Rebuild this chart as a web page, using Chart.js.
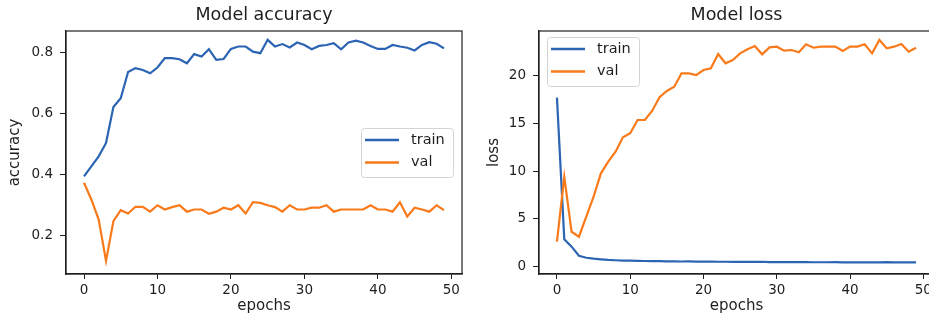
<!DOCTYPE html>
<html>
<head>
<meta charset="utf-8">
<title>Model accuracy / loss</title>
<script src="https://cdn.jsdelivr.net/npm/chart.js@4.4.1/dist/chart.umd.min.js"></script>
<style>
  html, body { margin: 0; padding: 0; background: #fff; overflow: hidden; }
  #wrap { position: relative; width: 929px; height: 324px; overflow: hidden; }
  canvas { position: absolute; top: 0; }
</style>
</head>
<body>
<div id="wrap">
  <canvas id="accChart" width="470" height="324" style="left:0;width:470px;height:324px"></canvas>
  <canvas id="lossChart" width="472" height="324" style="left:470px;width:472px;height:324px"></canvas>
</div>
<script>
'use strict';

// colours
var blue = '#2c64b4';
var orange = '#f97a1a';
var ink = '#1e1e1e';

// ---- data ----
var epochs = [0, 1, 2, 3, 4, 5, 6, 7, 8, 9,
              10, 11, 12, 13, 14, 15, 16, 17, 18, 19,
              20, 21, 22, 23, 24, 25, 26, 27, 28, 29,
              30, 31, 32, 33, 34, 35, 36, 37, 38, 39,
              40, 41, 42, 43, 44, 45, 46, 47, 48, 49];

var trainAcc = [0.393, 0.426, 0.459, 0.503, 0.621, 0.650, 0.736, 0.749, 0.743, 0.732,
                0.751, 0.782, 0.782, 0.778, 0.765, 0.795, 0.787, 0.811, 0.776, 0.779,
                0.812, 0.820, 0.820, 0.803, 0.798, 0.842, 0.820, 0.828, 0.817, 0.833,
                0.825, 0.811, 0.822, 0.825, 0.831, 0.811, 0.833, 0.839, 0.833, 0.822,
                0.812, 0.812, 0.825, 0.820, 0.816, 0.807, 0.825, 0.834, 0.829, 0.814];

var valAcc = [0.372, 0.317, 0.251, 0.115, 0.246, 0.282, 0.271, 0.293, 0.293, 0.277,
              0.298, 0.284, 0.292, 0.298, 0.277, 0.284, 0.284, 0.270, 0.277, 0.290,
              0.284, 0.298, 0.271, 0.308, 0.306, 0.298, 0.292, 0.277, 0.298, 0.284,
              0.284, 0.290, 0.290, 0.298, 0.277, 0.284, 0.284, 0.284, 0.284, 0.298,
              0.284, 0.284, 0.277, 0.308, 0.261, 0.290, 0.284, 0.277, 0.298, 0.282];

var trainLoss = [17.7, 2.87, 2.10, 1.15, 0.94, 0.85, 0.78, 0.72, 0.68, 0.65,
                 0.63, 0.62, 0.60, 0.59, 0.58, 0.57, 0.56, 0.55, 0.56, 0.54,
                 0.53, 0.53, 0.52, 0.52, 0.51, 0.51, 0.50, 0.50, 0.52, 0.49,
                 0.49, 0.48, 0.49, 0.48, 0.48, 0.47, 0.47, 0.47, 0.48, 0.46,
                 0.46, 0.46, 0.46, 0.47, 0.46, 0.48, 0.45, 0.45, 0.45, 0.45];

var valLoss = [2.62, 9.42, 3.66, 3.14, 5.24, 7.33, 9.78, 11.0, 12.04, 13.55,
               13.97, 15.36, 15.36, 16.34, 17.74, 18.40, 18.85, 20.25, 20.25, 20.07,
               20.60, 20.77, 22.27, 21.30, 21.64, 22.34, 22.76, 23.11, 22.24, 22.97,
               23.04, 22.62, 22.69, 22.45, 23.29, 22.93, 23.04, 23.04, 23.04, 22.59,
               23.04, 23.04, 23.29, 22.34, 23.74, 22.87, 23.04, 23.32, 22.51, 22.93];

var seriesNames = ['train', 'val'];
var epochTicks = [0, 10, 20, 30, 40, 50];
var accTicks = [0.2, 0.4, 0.6, 0.8];
var lossTicks = [0, 5, 10, 15, 20];

Chart.defaults.font.family = "'DejaVu Sans', sans-serif";
Chart.defaults.color = ink;

function points(values) {
    return values.map(function (v, i) { return { x: epochs[i], y: v }; });
}

function lineSet(label, values, color, order) {
    return {
        label: label,
        data: points(values),
        borderColor: color,
        backgroundColor: color,
        borderWidth: 2.2,
        pointRadius: 0,
        tension: 0,
        fill: false,
        order: order
    };
}

// axes frame + matplotlib-like legend box
var framePlugin = {
    id: 'frame',
    afterDatasetsDraw: function (chart, args, opts) {
        var a = chart.chartArea;
        var ctx = chart.ctx;
        ctx.save();
        ctx.strokeStyle = ink;
        ctx.lineWidth = 1.2;
        ctx.strokeRect(a.left, a.top, a.right - a.left, a.bottom - a.top);

        var w = 92, h = 49;
        var bx, by;
        if (opts.where === 'center right') {
            bx = a.right - 9 - w;
            by = (a.top + a.bottom) / 2 - h / 2;
        } else {
            bx = a.left + 8;
            by = a.top + 6;
        }
        ctx.fillStyle = 'rgba(255,255,255,0.85)';
        ctx.strokeStyle = '#d4d4d4';
        ctx.lineWidth = 1;
        ctx.beginPath();
        ctx.roundRect(bx + 0.5, by + 0.5, w, h, 3);
        ctx.fill();
        ctx.stroke();

        ctx.font = "14.5px 'DejaVu Sans', sans-serif";
        ctx.textBaseline = 'middle';
        ctx.textAlign = 'left';
        chart.data.datasets.forEach(function (ds, i) {
            var ry = by + 12 + i * 22.5;
            ctx.strokeStyle = ds.borderColor;
            ctx.lineWidth = 2.5;
            ctx.beginPath();
            ctx.moveTo(bx + 4, ry);
            ctx.lineTo(bx + 38, ry);
            ctx.stroke();
            ctx.fillStyle = ink;
            ctx.fillText(ds.label, bx + 50, ry);
        });
        ctx.restore();
    }
};

function xAxis() {
    return {
        type: 'linear',
        min: -2.45,
        max: 51.45,
        bounds: 'data',
        afterBuildTicks: function (s) { s.ticks = epochTicks.map(function (v) { return { value: v }; }); },
        afterFit: function (s) { s.height = 50; },
        grid: { drawOnChartArea: false, drawTicks: true, tickLength: 5, color: ink },
        border: { display: true, color: ink, width: 1.2 },
        ticks: { font: { size: 13.5 }, padding: 3, maxRotation: 0, autoSkip: false, color: ink },
        title: { display: true, text: 'epochs', font: { size: 15 }, color: ink, padding: { top: 0, bottom: 9 } }
    };
}

function yAxis(min, max, tickValues, label, width, titlePad, fmt) {
    return {
        type: 'linear',
        min: min,
        max: max,
        bounds: 'data',
        afterBuildTicks: function (s) { s.ticks = tickValues.map(function (v) { return { value: v }; }); },
        afterFit: function (s) { s.width = width; },
        grid: { drawOnChartArea: false, drawTicks: true, tickLength: 6, color: ink },
        border: { display: true, color: ink, width: 1.2 },
        ticks: { font: { size: 13.5 }, padding: 7, autoSkip: false, color: ink, callback: fmt },
        title: { display: true, text: label, font: { size: 15 }, color: ink, padding: { top: titlePad, bottom: 0 } }
    };
}

function makeOptions(title, legendWhere, yScale) {
    return {
        responsive: false,
        animation: false,
        devicePixelRatio: 1,
        layout: { padding: { left: 0, right: 8, top: 0, bottom: 0 } },
        plugins: {
            title: {
                display: true,
                text: title,
                fullSize: false,
                color: ink,
                font: { size: 17.5, weight: 'normal' },
                padding: { top: 5, bottom: 5 }
            },
            legend: { display: false },
            tooltip: { enabled: false },
            frame: { where: legendWhere }
        },
        scales: { x: xAxis(), y: yScale }
    };
}

// ------------------------------------------------------- //
// Model accuracy
// ------------------------------------------------------ //
new Chart(document.getElementById('accChart'), {
    type: 'line',
    data: {
        datasets: [
            lineSet(seriesNames[0], trainAcc, blue, 2),
            lineSet(seriesNames[1], valAcc, orange, 1)
        ]
    },
    options: makeOptions('Model accuracy', 'center right',
        yAxis(0.072, 0.871, accTicks, 'accuracy', 66, 6, function (v) { return v.toFixed(1); })),
    plugins: [framePlugin]
});

// ------------------------------------------------------- //
// Model loss
// ------------------------------------------------------ //
new Chart(document.getElementById('lossChart'), {
    type: 'line',
    data: {
        datasets: [
            lineSet(seriesNames[0], trainLoss, blue, 2),
            lineSet(seriesNames[1], valLoss, orange, 1)
        ]
    },
    options: makeOptions('Model loss', 'upper left',
        yAxis(-0.76, 24.68, lossTicks, 'loss', 69, 15, function (v) { return String(v); })),
    plugins: [framePlugin]
});
</script>
</body>
</html>
